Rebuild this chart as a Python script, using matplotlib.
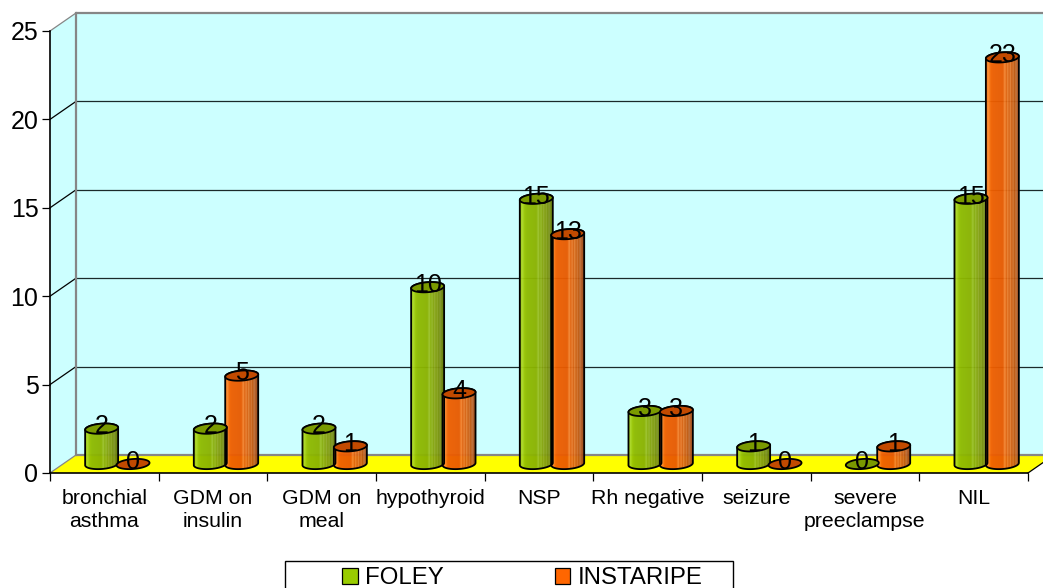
import numpy as np
import matplotlib
matplotlib.use("Agg")
import matplotlib.pyplot as plt
from matplotlib.colors import LinearSegmentedColormap
from matplotlib.patches import Patch, Polygon, Rectangle

plt.rcParams["font.family"] = ["Liberation Sans", "DejaVu Sans"]

# Chart data
categories = ["bronchial\nasthma", "GDM on\ninsulin", "GDM on\nmeal", "hypothyroid", "NSP",
              "Rh negative", "seizure", "severe\npreeclampse", "NIL"]
foley = [2, 2, 2, 10, 15, 3, 1, 0, 15]
instaripe = [0, 5, 1, 4, 13, 3, 0, 1, 23]
y_ticks = [0, 5, 10, 15, 20, 25]

W, H = 1043, 588
fig = plt.figure(figsize=(W / 100, H / 100), dpi=100, facecolor="white")
ax = fig.add_axes([50 / W, (H - 473) / H, 978 / W, 442 / H])
n = len(categories)
ax.set_xlim(0, n)
ax.set_ylim(0, 25)

# Pixel sizes of the oblique projection, converted to data units
px_x = n / 978
px_y = 25 / 442
depth_x, depth_y = 26 * px_x, 18 * px_y
half_bar = 16.5 * px_x
bar_offset = 15.7 * px_x
ell_b = 5.0 * px_y
tilt = 0.07 * px_y / px_x

WALL = "#CCFFFF"
EDGE = "#868686"

# Back wall, side wall and floor of the box
ax.add_patch(Polygon([(depth_x, depth_y), (n + depth_x, depth_y), (n + depth_x, 25 + depth_y), (depth_x, 25 + depth_y)],
                     closed=True, fc=WALL, ec="none", clip_on=False, zorder=0.5))
ax.add_patch(Polygon([(0, 0), (depth_x, depth_y), (depth_x, 25 + depth_y), (0, 25)],
                     closed=True, fc=WALL, ec="none", clip_on=False, zorder=0.5))
ax.add_patch(Polygon([(0, 0), (n, 0), (n + depth_x, depth_y), (depth_x, depth_y)],
                     closed=True, fc="#FFFF00", ec="none", clip_on=False, zorder=0.6))

# Gridlines on both walls
for t in y_ticks:
    major = t not in (0, 25)
    c = "#1a2a2a" if major else EDGE
    ax.plot([0, depth_x], [t, t + depth_y], color="black" if major else EDGE, lw=0.9, clip_on=False, zorder=0.8)
    ax.plot([depth_x, n + depth_x], [t + depth_y, t + depth_y], color=c, lw=0.9 if major else 1.6,
            clip_on=False, zorder=0.8, solid_capstyle="butt")
ax.plot([n, n + depth_x], [0, depth_y], color="black", lw=0.9, clip_on=False, zorder=0.9)
ax.plot([depth_x, depth_x], [depth_y, 25 + depth_y], color=EDGE, lw=1.6, clip_on=False, zorder=0.8)

# Horizontal shading across a cylinder: bright rim, flat body, ribbed dark side
stops = [0.0, 0.06, 0.14, 0.2, 0.5, 0.56, 0.6, 0.64, 0.68, 0.72, 0.76, 0.8, 0.84, 0.88, 0.94, 1.0]
green_shades = ["#8DB000", "#B0DC28", "#98C400", "#8FBA00", "#8AB200", "#A0C430", "#82A800", "#9CBC30",
                "#7F9F00", "#98B030", "#7A9600", "#90A828", "#728C00", "#86982A", "#6C8408", "#627800"]
orange_shades = ["#E85C00", "#FF9030", "#F46200", "#EE5E00", "#E85A00", "#F88C38", "#DC5600", "#F08A3C",
                 "#D45400", "#E88A40", "#C85000", "#D87C38", "#BC4E00", "#C4743C", "#AC5018", "#984A18"]
green_map = LinearSegmentedColormap.from_list("foley", list(zip(stops, green_shades)))
orange_map = LinearSegmentedColormap.from_list("instaripe", list(zip(stops, orange_shades)))
ramp = np.linspace(0, 1, 256).reshape(1, -1)


def ellipse_xy(cx, cy, start, stop):
    theta = np.linspace(start, stop, 60)
    ex = np.cos(theta) * half_bar
    return cx + ex, cy + np.sin(theta) * ell_b + ex * tilt


def cylinder(cx, value, cmap, top_color):
    base = depth_y / 2
    top = value + base
    if value > 0:
        bx, by = ellipse_xy(cx, base, np.pi, 2 * np.pi)
        tx, ty = ellipse_xy(cx, top, 0, np.pi)
        body = Polygon(np.column_stack([np.r_[bx, tx], np.r_[by, ty]]), closed=True,
                       fc="none", ec="black", lw=1.3, clip_on=False, zorder=3, joinstyle="round")
        ax.add_patch(body)
        img = ax.imshow(ramp, cmap=cmap, vmin=0, vmax=1, aspect="auto", interpolation="bilinear",
                        extent=(cx - half_bar, cx + half_bar, base - 2 * ell_b, top + 2 * ell_b),
                        zorder=2.9, alpha=0.96)
        img.set_clip_path(body)
    ex, ey = ellipse_xy(cx, top, 0, 2 * np.pi)
    ax.add_patch(Polygon(np.column_stack([ex, ey]), closed=True, fc=top_color, ec="black", lw=1.3,
                         clip_on=False, zorder=3.1))
    ax.text(cx, top + 2.2 * px_y, str(value), ha="center", va="center", fontsize=18, color="black",
            zorder=5, clip_on=False)


for i, (a, b) in enumerate(zip(foley, instaripe)):
    centre = i + 0.5 + depth_x / 2
    cylinder(centre - bar_offset, a, green_map, "#7A9A00")
    cylinder(centre + bar_offset, b, orange_map, "#C24A00")
ax.set_xlim(0, n)
ax.set_ylim(0, 25)

# Axes, ticks and labels
for side in ("top", "right"):
    ax.spines[side].set_visible(False)
for side in ("left", "bottom"):
    ax.spines[side].set_linewidth(1.2)
    ax.spines[side].set_zorder(4)
ax.patch.set_visible(False)
ax.set_yticks(y_ticks)
ax.tick_params(axis="y", length=5.8, width=0.9, pad=2.5, labelsize=18)
ax.set_xticks(np.arange(n + 1))
ax.set_xticklabels([])
ax.tick_params(axis="x", which="major", length=5.8, width=0.9)
ax.set_xticks(np.arange(n) + 0.5, minor=True)
ax.set_xticklabels(categories, minor=True, fontsize=15.3, linespacing=1.25)
ax.tick_params(axis="x", which="minor", length=0, pad=11.5)

# Legend box runs off the lower edge of the figure
fig.add_artist(Rectangle((284.5 / W, -0.02), (733 - 284.5) / W, 0.02 + (H - 561) / H, transform=fig.transFigure,
                         fc="white", ec="black", lw=1.0))
handles = [Patch(fc="#99CC00", ec="black", lw=0.9, label="FOLEY"),
           Patch(fc="#FF6600", ec="black", lw=0.9, label="INSTARIPE")]
fig.legend(handles=handles, loc="center left", bbox_to_anchor=(342 / W, (H - 578) / H), ncol=2, frameon=False,
           fontsize=17.3, borderpad=0, borderaxespad=0, handlelength=0.65, handleheight=0.65,
           handletextpad=0.3, columnspacing=4.63)

fig.savefig("out.png", dpi=100, facecolor="white")
